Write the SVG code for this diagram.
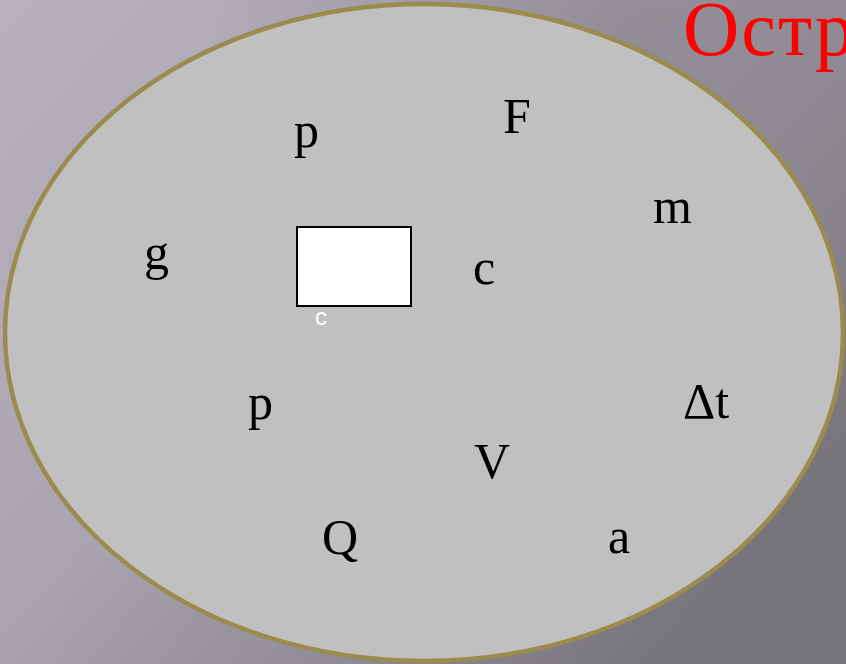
<svg xmlns="http://www.w3.org/2000/svg" width="846" height="664" viewBox="0 0 846 664">
<defs>
<linearGradient id="bg" x1="0" y1="0" x2="1" y2="0.7">
<stop offset="0" stop-color="#b7b1be"/>
<stop offset="0.45" stop-color="#aaa4b0"/>
<stop offset="1" stop-color="#77737b"/>
</linearGradient>
<radialGradient id="dark" cx="0.75" cy="0.05" r="0.5">
<stop offset="0" stop-color="#858088" stop-opacity="0.6"/>
<stop offset="1" stop-color="#858088" stop-opacity="0"/>
</radialGradient>
<style>
.v{font-family:"Liberation Serif","Times New Roman",serif;font-size:50px;fill:#000}
</style>
</defs>
<rect width="846" height="664" fill="url(#bg)"/>
<rect width="846" height="664" fill="url(#dark)"/>
<g id="oval">
<ellipse cx="424" cy="332.5" rx="419" ry="328.5" fill="#c0c0c0" stroke="#9b8b4d" stroke-width="4.5"/>
</g>
<text x="683" y="55" font-family="Liberation Serif,serif" font-size="78" letter-spacing="2" fill="#ff0000">Остр</text>
<g id="box">
<rect x="297" y="227" width="114" height="79" fill="#ffffff" stroke="#000" stroke-width="2"/>
<text x="315" y="325" font-family="Liberation Sans,Arial,sans-serif" font-size="24" fill="#ffffff">c</text>
</g>
<g id="labels">
<text class="v" x="294" y="147">p</text>
<text class="v" x="503" y="133">F</text>
<text class="v" x="653" y="223">m</text>
<text class="v" x="144" y="269">g</text>
<text class="v" x="473" y="284">c</text>
<text class="v" x="248" y="419">p</text>
<text class="v" x="683" y="418">Δt</text>
<text class="v" x="474" y="478">V</text>
<text class="v" x="322" y="554">Q</text>
<text class="v" x="608" y="553">a</text>
</g>
</svg>
